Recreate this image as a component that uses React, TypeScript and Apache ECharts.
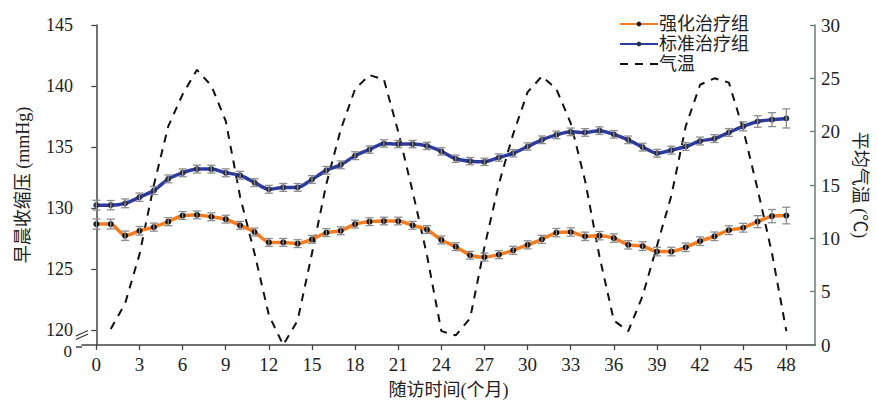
import React, { useEffect, useRef } from "react";
import * as echarts from "echarts";

const months = [0,1,2,3,4,5,6,7,8,9,10,11,12,13,14,15,16,17,18,19,20,21,22,23,24,25,26,27,28,29,30,31,32,33,34,35,36,37,38,39,40,41,42,43,44,45,46,47,48];
const xTicks = [0,3,6,9,12,15,18,21,24,27,30,33,36,39,42,45,48];
const leftTicks = [120,125,130,135,140,145];
const rightTicks = [0,5,10,15,20,25,30];

const intensive = [128.7,128.7,127.75,128.15,128.45,128.9,129.4,129.45,129.3,129.1,128.6,128.05,127.2,127.2,127.1,127.45,128.0,128.15,128.7,128.9,128.95,128.95,128.6,128.25,127.4,126.85,126.15,126.0,126.2,126.55,127.0,127.45,128.0,128.05,127.7,127.75,127.55,127.0,126.9,126.45,126.45,126.8,127.3,127.7,128.2,128.4,128.9,129.35,129.4];
const intensiveErr = [0.42,0.4,0.38,0.35,0.33,0.33,0.32,0.32,0.32,0.32,0.32,0.32,0.32,0.32,0.32,0.32,0.32,0.32,0.32,0.32,0.31,0.31,0.32,0.32,0.32,0.32,0.32,0.33,0.33,0.33,0.33,0.33,0.34,0.34,0.34,0.34,0.34,0.34,0.35,0.35,0.35,0.35,0.35,0.35,0.36,0.36,0.49,0.54,0.68];
const standard = [130.25,130.25,130.4,130.9,131.45,132.4,132.9,133.2,133.2,132.9,132.7,132.1,131.55,131.7,131.7,132.35,133.1,133.55,134.3,134.8,135.3,135.25,135.25,135.1,134.65,134.05,133.85,133.8,134.15,134.5,135.05,135.6,136.0,136.25,136.2,136.35,136.05,135.6,135.0,134.5,134.75,135.05,135.5,135.7,136.2,136.7,137.1,137.25,137.35];
const standardErr = [0.4,0.38,0.36,0.34,0.33,0.32,0.32,0.32,0.32,0.32,0.32,0.32,0.32,0.32,0.32,0.32,0.32,0.32,0.32,0.3,0.3,0.3,0.3,0.3,0.3,0.3,0.3,0.3,0.3,0.3,0.3,0.31,0.31,0.31,0.31,0.31,0.31,0.31,0.32,0.32,0.32,0.32,0.32,0.32,0.32,0.37,0.47,0.57,0.78];
const temperature = [null,1.5,3.9,8.5,15.0,20.5,23.5,25.8,24.3,21.0,13.9,8.6,2.8,0.0,2.3,8.6,15.1,20.2,24.0,25.3,24.9,20.0,14.4,8.4,1.3,0.9,2.5,9.2,15.1,19.8,23.7,25.2,24.0,20.8,15.4,8.3,2.3,1.3,4.6,9.3,14.0,20.5,24.4,25.0,24.6,20.2,14.6,8.6,1.3];

const FONT = "'Liberation Serif', 'Noto Sans CJK SC', serif";
const TXT = "#222";

function errorSeries(values: number[], errs: number[], name: string) {
  const data = months.map((m, i) => [m, values[i] - errs[i], values[i] + errs[i]]);
  return {
    type: "custom",
    name,
    xAxisIndex: 0,
    yAxisIndex: 0,
    z: 3,
    silent: true,
    encode: { x: 0, y: [1, 2] },
    data,
    renderItem: (params: any, api: any) => {
      const x = api.value(0);
      const lo = api.coord([x, api.value(1)]);
      const hi = api.coord([x, api.value(2)]);
      const w = 4;
      const st = { stroke: "#8c8c8c", lineWidth: 1.3 };
      return {
        type: "group",
        children: [
          { type: "line", shape: { x1: lo[0], y1: lo[1], x2: hi[0], y2: hi[1] }, style: st },
          { type: "line", shape: { x1: lo[0] - w, y1: lo[1], x2: lo[0] + w, y2: lo[1] }, style: st },
          { type: "line", shape: { x1: hi[0] - w, y1: hi[1], x2: hi[0] + w, y2: hi[1] }, style: st },
        ],
      };
    },
  };
}

export default function App() {
  const ref = useRef<HTMLDivElement>(null);
  useEffect(() => {
    const chart = echarts.init(ref.current!, null, { renderer: "svg" });
    chart.setOption({
      animation: false,
      backgroundColor: "#fff",
      textStyle: { fontFamily: FONT },
      grid: { left: 82, right: 60, top: 25, bottom: 57, containLabel: false },
      legend: {
        orient: "vertical",
        left: 614,
        top: 10,
        itemWidth: 38,
        itemHeight: 6,
        itemGap: 2,
        data: [
          { name: "强化治疗组" },
          { name: "标准治疗组" },
          { name: "气温", itemStyle: { opacity: 0 } },
        ],
        textStyle: { fontFamily: FONT, fontSize: 18, color: TXT, padding: [0, 0, 0, -4] },
      },
      xAxis: {
        type: "value",
        min: -1,
        max: 50,
        name: "随访时间(个月)",
        nameLocation: "middle",
        nameGap: 36,
        nameTextStyle: { fontFamily: FONT, fontSize: 18, color: TXT },
        axisLine: { lineStyle: { color: "#444", width: 1.5 } },
        axisTick: { show: true, length: 5, customValues: xTicks, lineStyle: { color: "#444", width: 1.3 } },
        axisLabel: { customValues: xTicks, fontSize: 19, color: TXT, margin: 10, fontFamily: FONT },
        splitLine: { show: false },
      },
      yAxis: [
        {
          type: "value",
          position: "left",
          min: 118.8,
          max: 145,
          name: "早晨收缩压 (mmHg)",
          nameLocation: "middle",
          nameGap: 50,
          nameTextStyle: { fontFamily: FONT, fontSize: 18, color: TXT },
          axisLine: { show: true, lineStyle: { color: "#444", width: 1.5 } },
          axisTick: { show: true, length: 5, customValues: leftTicks, lineStyle: { color: "#444", width: 1.3 } },
          axisLabel: { customValues: leftTicks, fontSize: 18, color: TXT, margin: 9, fontFamily: FONT },
          splitLine: { show: false },
        },
        {
          type: "value",
          position: "right",
          min: 0,
          max: 30,
          interval: 5,
          name: "平均气温 (℃)",
          nameLocation: "middle",
          nameRotate: -90,
          nameGap: 32,
          nameTextStyle: { fontFamily: FONT, fontSize: 18, color: TXT },
          axisLine: { show: true, lineStyle: { color: "#6b7b7b", width: 1.5 } },
          axisTick: { show: true, inside: true, length: 5, lineStyle: { color: "#6b7b7b", width: 1.3 } },
          axisLabel: { fontSize: 19, color: TXT, margin: 6, fontFamily: FONT, customValues: rightTicks },
          splitLine: { show: false },
        },
      ],
      series: [
        {
          name: "强化治疗组",
          type: "line",
          yAxisIndex: 0,
          data: months.map((m, i) => [m, intensive[i]]),
          smooth: 0.2,
          symbol: "circle",
          symbolSize: 6,
          z: 2,
          lineStyle: { color: "#f57c1f", width: 3.5 },
          itemStyle: { color: "#111" },
        },
        {
          name: "标准治疗组",
          type: "line",
          yAxisIndex: 0,
          data: months.map((m, i) => [m, standard[i]]),
          smooth: 0.25,
          symbol: "circle",
          symbolSize: 6,
          z: 2,
          lineStyle: { color: "#2e3b9e", width: 3.5 },
          itemStyle: { color: "#2a2d4a" },
        },
        {
          name: "气温",
          type: "line",
          yAxisIndex: 1,
          data: months.map((m, i) => [m, temperature[i]]),
          symbol: "none",
          connectNulls: false,
          z: 1,
          lineStyle: { color: "#111", width: 2, type: [8, 7] },
          itemStyle: { color: "#111" },
        },
        errorSeries(intensive, intensiveErr, "err1"),
        errorSeries(standard, standardErr, "err2"),
      ],
      graphic: [
        { type: "line", shape: { x1: 76, y1: 347, x2: 82, y2: 347 }, style: { stroke: "#444", lineWidth: 1.5 }, z: 100 },
        { type: "text", x: 72, y: 342.5, style: { text: "0", font: "17px 'Liberation Serif'", fill: TXT, textAlign: "right", textVerticalAlign: "top" }, z: 100 },
        { type: "rect", shape: { x: 79, y: 333, width: 6, height: 4 }, style: { fill: "#fff" }, z: 100 },
        { type: "line", shape: { x1: 76, y1: 336, x2: 88, y2: 330.5 }, style: { stroke: "#333", lineWidth: 1.3 }, z: 101 },
        { type: "line", shape: { x1: 76, y1: 339.5, x2: 88, y2: 334 }, style: { stroke: "#333", lineWidth: 1.3 }, z: 101 },
      ],
    });
    return () => chart.dispose();
  }, []);
  return <div ref={ref} style={{ position: "fixed", left: 0, top: 0, width: 877, height: 404 }} />;
}
